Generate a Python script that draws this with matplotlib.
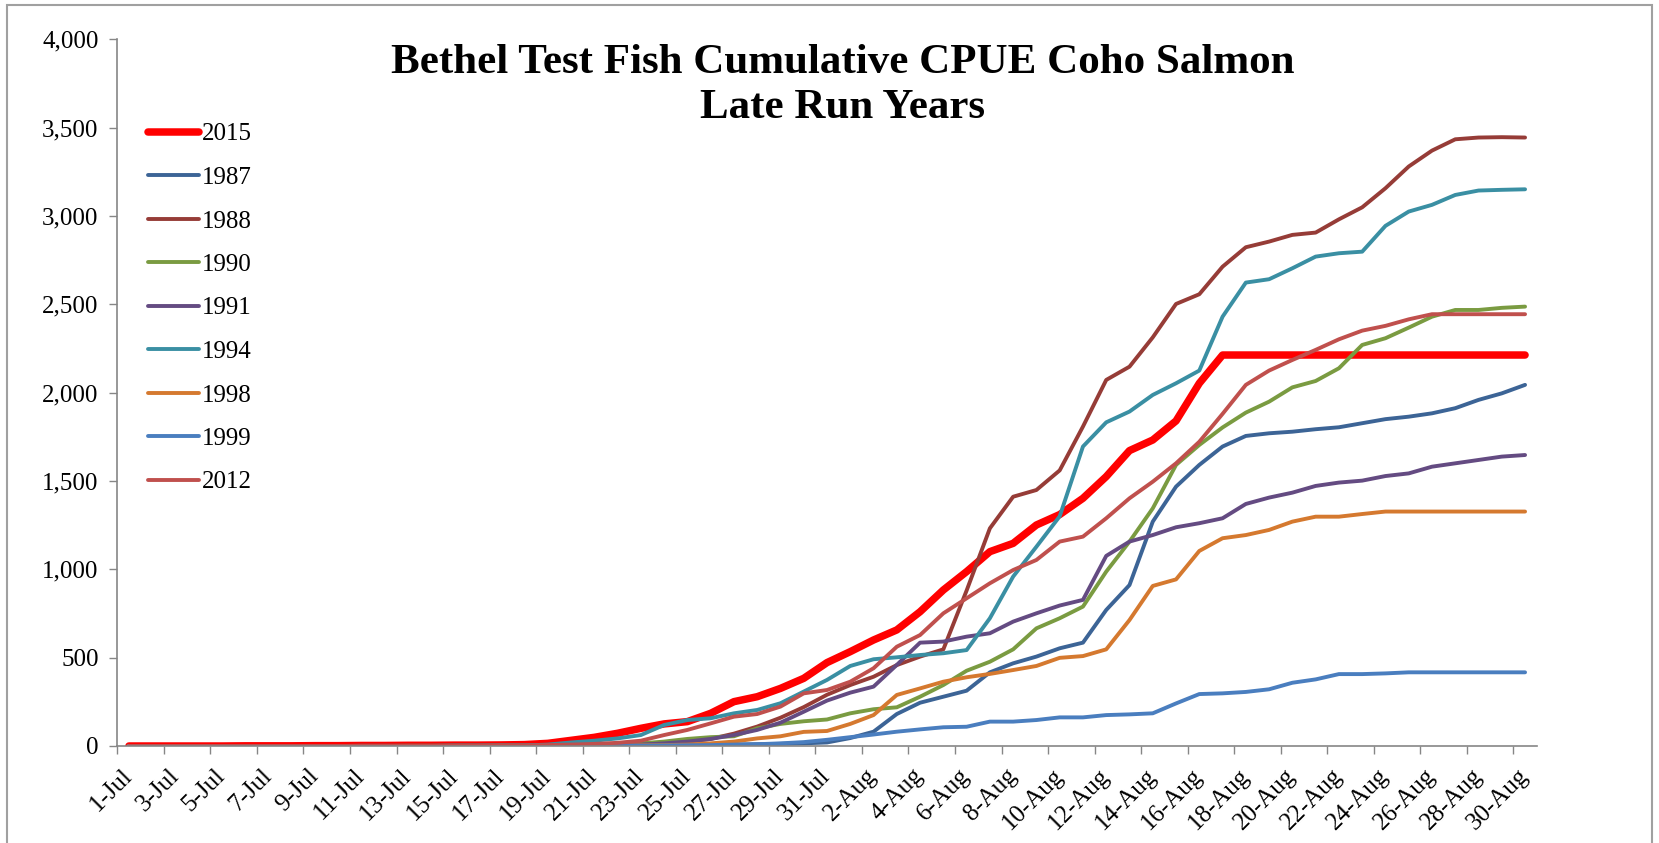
import numpy as np
import pandas as pd
import matplotlib
matplotlib.use('Agg')
import matplotlib.pyplot as plt
from matplotlib.lines import Line2D
from matplotlib.patches import Rectangle
from matplotlib.ticker import FuncFormatter

plt.rcParams['font.family'] = ['Liberation Serif', 'DejaVu Serif']

# categories: 1-Jul .. 30-Aug
days = pd.date_range('2015-07-01', '2015-08-30', freq='D')
day_labels = [f"{d.day}-{d.strftime('%b')}" for d in days]

# cumulative CPUE (one value per day)
cpue_2015 = [0, 0, 0, 0, 0, 1, 1, 1, 2, 2,
             3, 3, 4, 4, 5, 5, 6, 8, 15, 32,
             49, 72, 100, 125, 138, 185, 251, 279, 326, 383,
             472, 534, 600, 657, 760, 883, 987, 1100, 1147, 1251,
             1310, 1402, 1525, 1672, 1732, 1840, 2053, 2213, 2213, 2213,
             2213, 2213, 2213, 2213, 2213, 2213, 2213, 2213, 2213, 2213,
             2213]
cpue_1987 = [0, 0, 0, 0, 0, 0, 0, 0, 0, 0,
             0, 0, 0, 0, 0, 0, 0, 1, 1, 1,
             2, 3, 4, 5, 6, 7, 8, 10, 12, 15,
             20, 45, 81, 181, 245, 279, 313, 417, 468, 506,
             553, 585, 770, 911, 1270, 1468, 1591, 1695, 1755, 1770,
             1779, 1793, 1804, 1827, 1850, 1864, 1883, 1912, 1959, 1996,
             2044]
cpue_1988 = [0, 0, 0, 0, 0, 0, 0, 0, 0, 0,
             1, 1, 1, 1, 2, 2, 2, 3, 3, 4,
             5, 8, 12, 18, 25, 40, 70, 110, 160, 220,
             290, 345, 392, 458, 506, 547, 880, 1232, 1411, 1449,
             1560, 1808, 2072, 2147, 2313, 2502, 2557, 2713, 2823, 2855,
             2893, 2906, 2981, 3049, 3157, 3280, 3370, 3434, 3444, 3446,
             3444]
cpue_1990 = [0, 0, 0, 0, 0, 0, 0, 0, 0, 0,
             0, 0, 1, 1, 1, 1, 2, 2, 2, 3,
             5, 8, 15, 25, 40, 50, 55, 100, 125, 140,
             150, 185, 208, 219, 279, 345, 426, 477, 547, 666,
             723, 789, 987, 1157, 1345, 1591, 1704, 1803, 1887, 1949,
             2030, 2066, 2138, 2270, 2308, 2368, 2430, 2468, 2468, 2480,
             2487]
cpue_1991 = [0, 0, 0, 0, 0, 0, 0, 0, 0, 0,
             0, 0, 0, 0, 1, 1, 1, 1, 2, 2,
             3, 4, 8, 15, 25, 40, 62, 91, 132, 194,
             257, 302, 336, 459, 585, 591, 619, 638, 704, 751,
             795, 827, 1076, 1157, 1194, 1238, 1261, 1289, 1370, 1406,
             1434, 1472, 1491, 1502, 1528, 1543, 1581, 1600, 1619, 1638,
             1647]
cpue_1994 = [0, 0, 0, 0, 0, 0, 0, 0, 0, 0,
             1, 1, 1, 1, 2, 2, 3, 3, 8, 20,
             30, 43, 62, 119, 147, 157, 185, 204, 242, 308,
             374, 453, 491, 502, 515, 525, 543, 723, 959, 1128,
             1300, 1695, 1832, 1893, 1987, 2053, 2125, 2430, 2623, 2642,
             2704, 2770, 2789, 2798, 2944, 3025, 3063, 3119, 3144, 3148,
             3151]
cpue_1998 = [0, 0, 0, 0, 0, 0, 0, 0, 0, 0,
             0, 0, 0, 0, 0, 0, 0, 0, 1, 1,
             2, 3, 4, 5, 8, 15, 25, 43, 55, 80,
             85, 125, 175, 289, 326, 364, 389, 408, 430, 453,
             499, 509, 547, 713, 906, 943, 1104, 1176, 1194, 1223,
             1270, 1298, 1298, 1313, 1327, 1327, 1327, 1327, 1327, 1327,
             1327]
cpue_1999 = [0, 0, 0, 0, 0, 0, 0, 0, 0, 0,
             0, 0, 0, 0, 0, 0, 0, 0, 0, 1,
             1, 2, 2, 3, 4, 5, 8, 10, 15, 22,
             35, 50, 65, 81, 94, 106, 109, 138, 138, 147,
             162, 162, 175, 179, 185, 241, 294, 298, 306, 321,
             358, 377, 407, 407, 411, 417, 417, 417, 417, 417,
             417]
cpue_2012 = [0, 0, 0, 0, 0, 0, 0, 0, 0, 0,
             1, 1, 1, 1, 2, 2, 3, 3, 5, 8,
             12, 18, 30, 62, 91, 128, 166, 181, 223, 298,
             317, 364, 440, 562, 628, 751, 836, 921, 996, 1053,
             1157, 1185, 1289, 1402, 1496, 1600, 1722, 1880, 2044, 2125,
             2185, 2242, 2302, 2351, 2378, 2415, 2444, 2444, 2444, 2444,
             2444]

years = ['2015', '1987', '1988', '1990', '1991', '1994', '1998', '1999', '2012']
series = [cpue_2015, cpue_1987, cpue_1988, cpue_1990, cpue_1991,
          cpue_1994, cpue_1998, cpue_1999, cpue_2012]
colors = ['#FF0000', '#3C6496', '#963C37', '#7A9B41', '#644B82',
          '#3A8FA3', '#D5792F', '#4A7EBF', '#C0504D']
widths = [5.4, 2.8, 2.8, 2.8, 2.8, 2.8, 2.8, 2.8, 2.8]

W, H = 1659, 843
fig = plt.figure(figsize=(W / 100, H / 100), dpi=100)
ax = fig.add_axes([117.3 / W, 1 - 746 / H, (1536.7 - 117.3) / W, (746 - 39.3) / H])

x = np.arange(len(days))
for vals, c, lw in zip(series, colors, widths):
    ax.plot(x, vals, color=c, lw=lw, solid_capstyle='round', solid_joinstyle='round')

ax.set_xlim(-0.5, len(days) - 0.5)
ax.set_ylim(0, 4000)
ax.set_yticks(np.arange(0, 4001, 500))
ax.yaxis.set_major_formatter(FuncFormatter(lambda v, p: f"{int(v):,}"))

ax.set_xticks(x[::2])
ax.set_xticklabels(day_labels[::2], rotation=45, ha='right', va='center',
                   rotation_mode='anchor')
ax.set_xticks(np.arange(-0.5, len(days), 2), minor=True)

axis_gray = '#868686'
ax.tick_params(axis='x', which='major', length=0, pad=19, labelsize=18)
ax.tick_params(axis='x', which='minor', length=5.5, color=axis_gray, width=1)
ax.tick_params(axis='y', length=5.5, color=axis_gray, width=1, labelsize=18, pad=8)
for s in ['top', 'right']:
    ax.spines[s].set_visible(False)
for s in ['left', 'bottom']:
    ax.spines[s].set_color(axis_gray)
    ax.spines[s].set_linewidth(1.2)

handles = [Line2D([], [], color=c, lw=lw, solid_capstyle='round')
           for c, lw in zip(colors, widths)]
fig.legend(handles, years, loc='upper left', bbox_to_anchor=(148 / W, 1 - 123 / H),
           frameon=False, fontsize=18, handlelength=2.05, handletextpad=0.12,
           labelspacing=0.84, borderpad=0, borderaxespad=0)

fig.text(843 / W, 1 - 44 / H,
         "Bethel Test Fish Cumulative CPUE Coho Salmon\nLate Run Years",
         ha='center', va='top', fontsize=31, fontweight='bold',
         linespacing=1.24, multialignment='center')

# chart area border
fig.add_artist(Rectangle((7 / W, -0.05), (1652 - 7) / W, 1.05 - 5 / H,
                         transform=fig.transFigure, fill=False,
                         edgecolor='#A0A0A0', lw=1.5))

fig.savefig('out.png', dpi=100)
